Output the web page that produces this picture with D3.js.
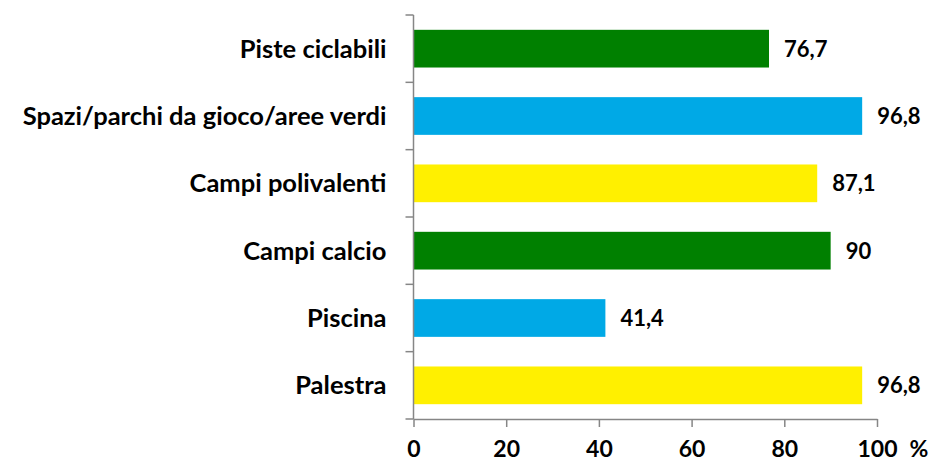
<!DOCTYPE html>
<html>
<head>
<meta charset="utf-8">
<script src="https://cdn.jsdelivr.net/npm/d3@7"></script>
<style>
  body { margin: 0; background: #fff; }
  text { font-family: Lato, "Open Sans", sans-serif; font-weight: bold; fill: #000; }
</style>
</head>
<body>
<div id="chart"></div>
<script>
// categories from top to bottom
const categories = ["Piste ciclabili", "Spazi/parchi da gioco/aree verdi", "Campi polivalenti", "Campi calcio", "Piscina", "Palestra"];
const values = [76.7, 96.8, 87.1, 90, 41.4, 96.8];
const barColors = ["#008000", "#00a9e6", "#fff000", "#008000", "#00a9e6", "#fff000"];
const xTicks = [0, 20, 40, 60, 80, 100];

const width = 933, height = 463;
const margin = {top: 15, left: 413.5, right: 56, bottom: 44};

const svg = d3.select("#chart").append("svg")
    .attr("width", width)
    .attr("height", height);

const x = d3.scaleLinear()
    .domain([0, 100])
    .range([margin.left, width - margin.right]);

const y = d3.scaleBand()
    .domain(categories)
    .range([margin.top, height - margin.bottom])
    .paddingInner(0.44)
    .paddingOuter(0.22);

// bars
svg.selectAll("rect.bar")
    .data(categories)
    .join("rect")
    .attr("class", "bar")
    .attr("x", x(0))
    .attr("y", d => y(d))
    .attr("width", (d, i) => x(values[i]) - x(0))
    .attr("height", y.bandwidth())
    .attr("fill", (d, i) => barColors[i]);

// value labels
const fmt = v => String(v).replace(".", ",");
svg.selectAll("text.val")
    .data(categories)
    .join("text")
    .attr("class", "val")
    .attr("x", (d, i) => x(values[i]) + 15)
    .attr("y", d => y(d) + y.bandwidth() / 2)
    .attr("dy", "0.36em")
    .style("font-size", "22px")
    .text((d, i) => fmt(values[i]));

// category labels
svg.selectAll("text.cat")
    .data(categories)
    .join("text")
    .attr("class", "cat")
    .attr("x", margin.left - 27)
    .attr("y", d => y(d) + y.bandwidth() / 2)
    .attr("dy", "0.35em")
    .attr("text-anchor", "end")
    .style("font-size", "25.5px")
    .text(d => d);

const axisColor = "#868686";
const y0 = height - margin.bottom;

// y axis line with ticks at band edges
svg.append("line")
    .attr("x1", x(0)).attr("x2", x(0))
    .attr("y1", margin.top).attr("y2", y0)
    .attr("stroke", axisColor).attr("stroke-width", 1.5);

const edges = d3.range(categories.length + 1).map(i => margin.top + i * (y0 - margin.top) / categories.length);
svg.selectAll("line.ytick")
    .data(edges)
    .join("line")
    .attr("class", "ytick")
    .attr("x1", x(0) - 8).attr("x2", x(0))
    .attr("y1", d => d).attr("y2", d => d)
    .attr("stroke", axisColor).attr("stroke-width", 1.5);

// x axis
const xAxis = svg.append("g")
    .attr("transform", `translate(0,${y0})`)
    .call(d3.axisBottom(x).tickValues(xTicks).tickSize(8).tickPadding(14).tickSizeOuter(0));
xAxis.select(".domain").attr("stroke", axisColor).attr("stroke-width", 1.5);
xAxis.selectAll(".tick line").attr("stroke", axisColor).attr("stroke-width", 1.5);
xAxis.selectAll(".tick text")
    .style("font-size", "23px")
    .style("font-family", "Lato, sans-serif")
    .style("font-weight", "bold")
    .attr("fill", "#000");

svg.append("text")
    .attr("x", 919)
    .attr("y", 457)
    .attr("text-anchor", "middle")
    .style("font-size", "23px")
    .text("%");
</script>
</body>
</html>
